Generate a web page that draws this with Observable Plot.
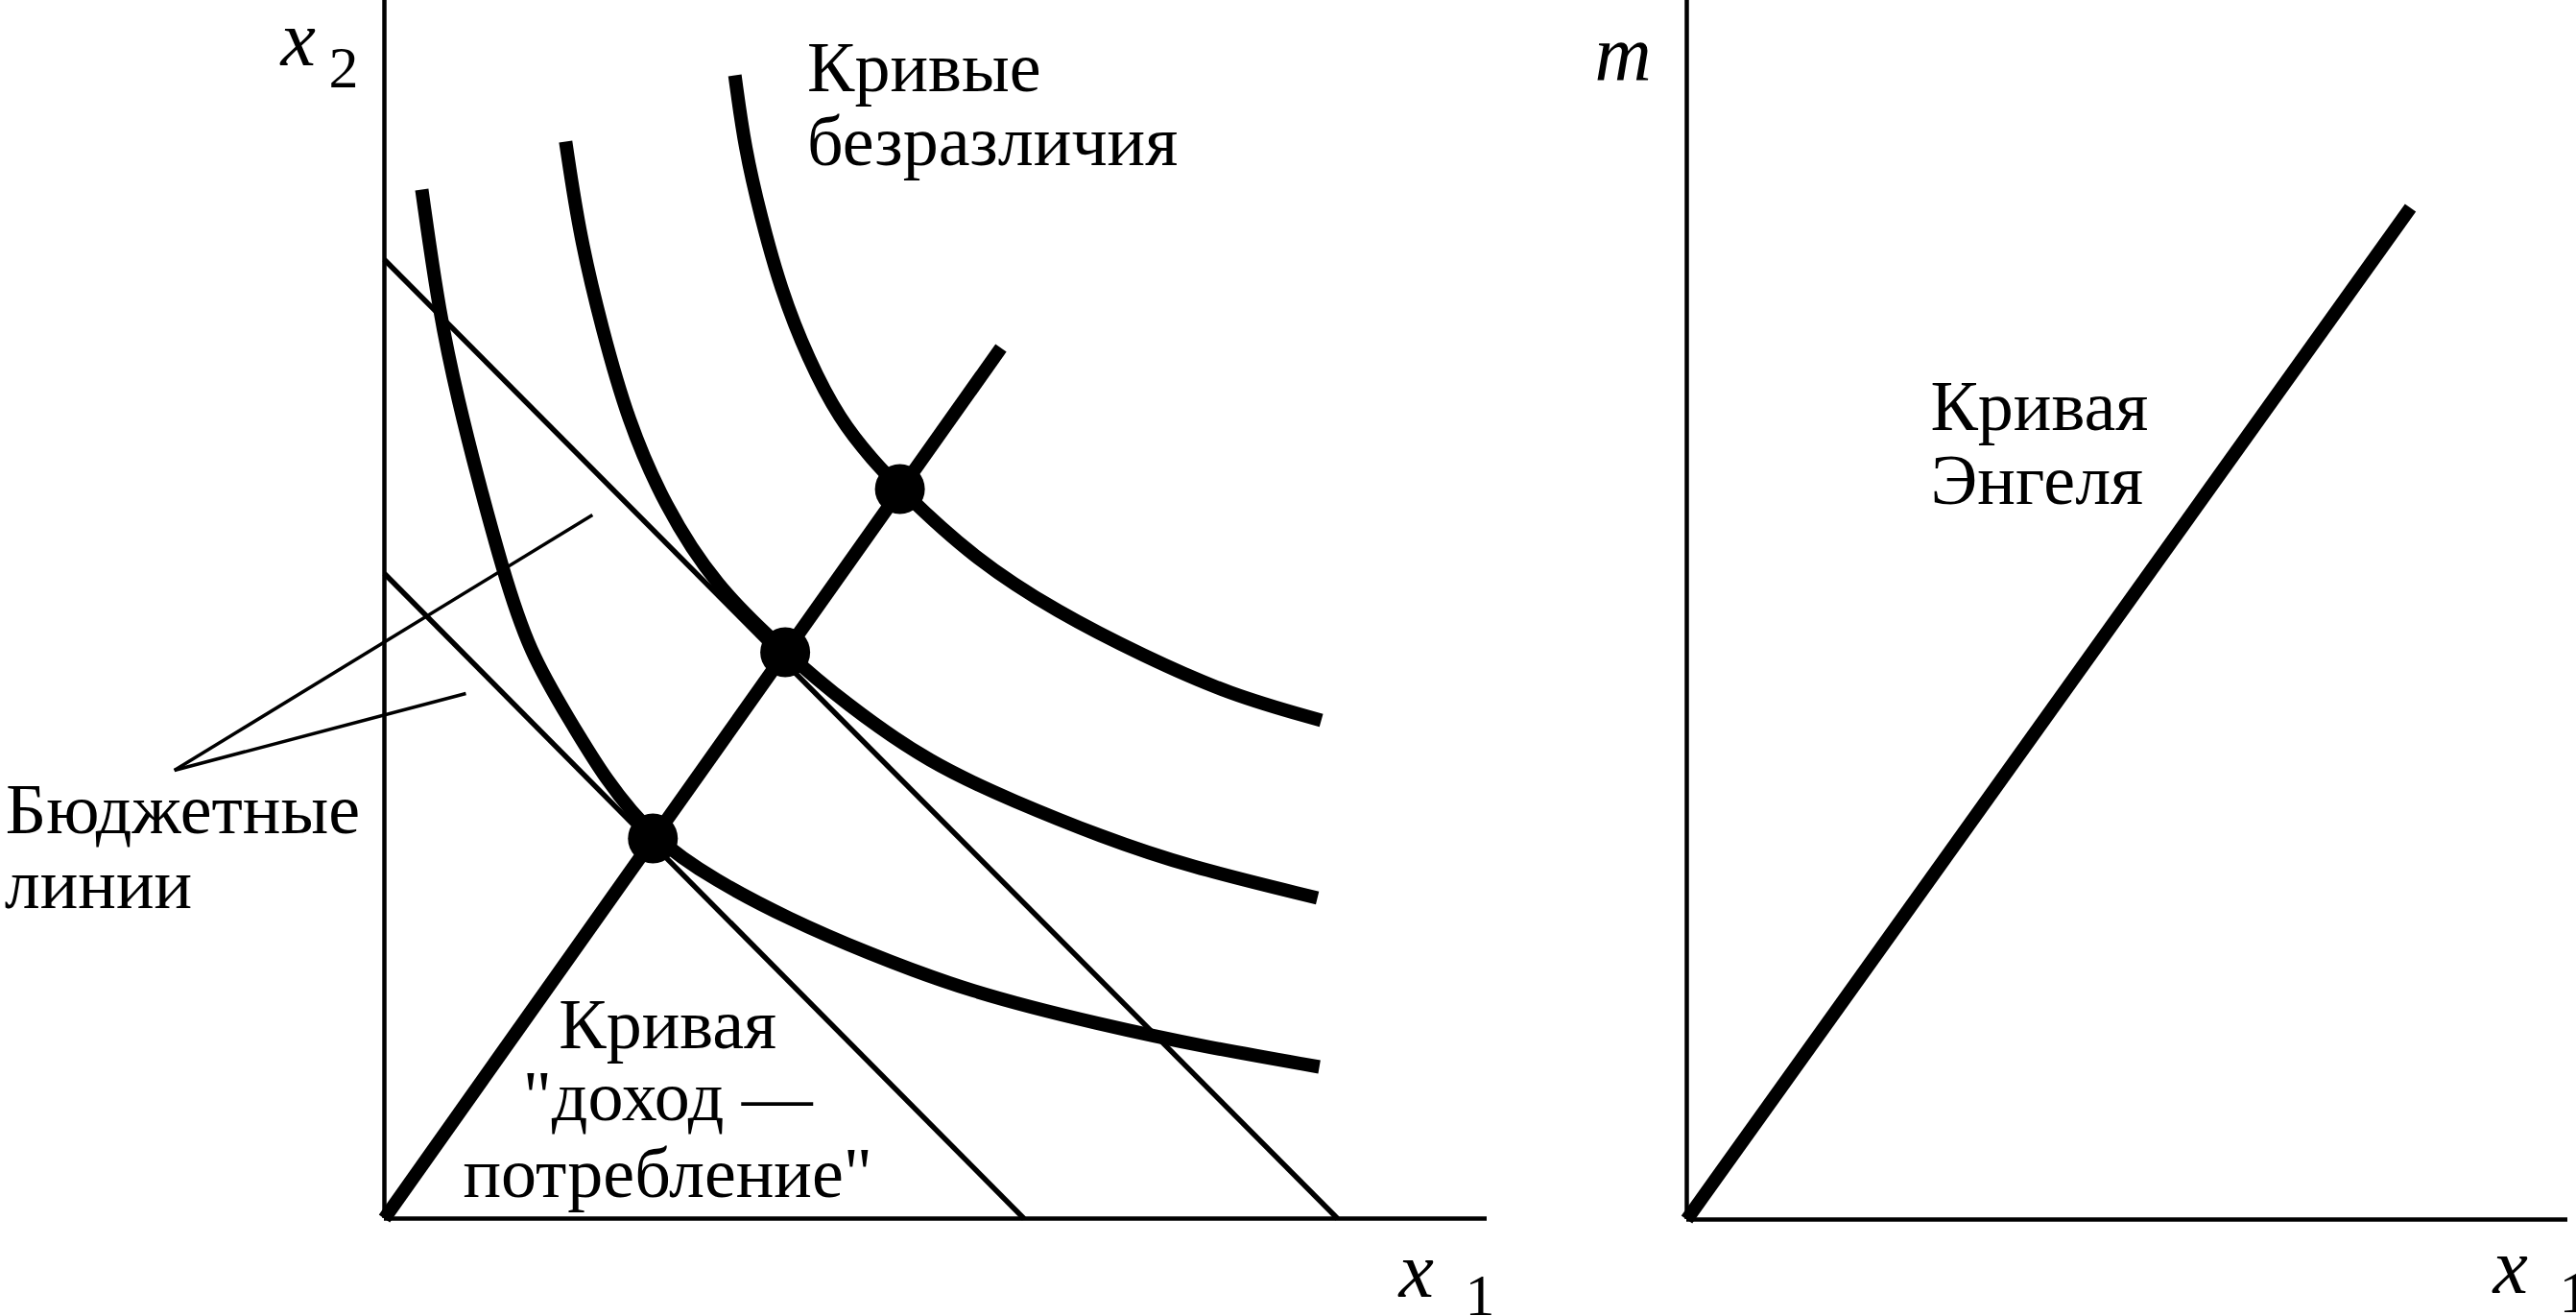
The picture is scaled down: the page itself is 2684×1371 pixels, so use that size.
<!DOCTYPE html>
<html>
<head>
<meta charset="utf-8">
<script src="https://cdn.jsdelivr.net/npm/d3@7"></script>
<script src="https://cdn.jsdelivr.net/npm/@observablehq/plot@0.6"></script>
<style>
html, body { margin: 0; padding: 0; background: #fff; }
#wrap { position: relative; width: 2684px; height: 1371px; overflow: hidden; background: #fff; }
#wrap svg { position: absolute; top: 0; overflow: visible; max-width: none; }
#wrap svg text { font-family: "Liberation Serif", "DejaVu Serif", "Times New Roman", Times, serif; }
</style>
</head>
<body>
<div id="wrap"></div>
<script>
// ---- Left panel data (units: x1, x2) ----
const indiff1 = [[0.39,10.72],[0.573,9.42],[0.775,8.50],[0.967,7.74],[1.227,6.78],[1.51,5.90],[1.94,5.18],[2.30,4.58],[2.80,3.96],[3.45,3.52],[4.22,3.12],[5.00,2.78],[6.10,2.36],[7.47,2.02],[8.60,1.78],[9.75,1.58]];
const indiff2 = [[1.89,11.22],[2.04,10.22],[2.27,9.27],[2.54,8.31],[2.92,7.43],[3.45,6.59],[4.18,5.90],[4.80,5.37],[5.69,4.74],[6.58,4.34],[7.47,3.98],[8.37,3.67],[9.73,3.34]];
const indiff3 = [[3.655,11.91],[3.76,11.14],[3.925,10.44],[4.13,9.69],[4.42,8.95],[4.75,8.32],[5.085,7.91],[5.376,7.60],[6.135,6.885],[7.03,6.31],[7.92,5.86],[8.81,5.46],[9.77,5.19]];
const budget1 = [[0,9.99],[9.94,0]];
const budget2 = [[0,6.72],[6.67,0]];
const incomeConsumption = [[0,0],[6.43,9.07]];
const optima = [[2.80,3.96],[4.18,5.90],[5.376,7.60]];
const pointerUpper = [[-2.19,4.67],[2.17,7.33]];
const pointerLower = [[-2.19,4.67],[0.85,5.47]];
const leftLabels = [
  {text: "Кривые", x: 4.41, y: 11.745},
  {text: "безразличия", x: 4.41, y: 10.978},
  {text: "Бюджетные", x: -3.95, y: 4.02},
  {text: "линии", x: -3.96, y: 3.24}
];
const iccLabels = [
  {text: "Кривая", x: 2.955, y: 1.776},
  {text: "\"доход —", x: 2.955, y: 1.03},
  {text: "потребление\"", x: 2.955, y: 0.227}
];
const leftAxisVar = [{text: "x", x: -1.08, y: 12.02}, {text: "x", x: 10.58, y: -0.81}];
const leftAxisSub = [{text: "2", x: -0.58, y: 11.79}, {text: "1", x: 11.27, y: -1.00}];

// ---- Right panel data (units: x1, m) ----
const engel = [[0,0],[7.54,10.54]];
const rightLabels = [
  {text: "Кривая", x: 2.54, y: 8.23},
  {text: "Энгеля", x: 2.54, y: 7.46}
];
const rightAxisVar = [{text: "m", x: -0.96, y: 11.88}, {text: "x", x: 8.40, y: -0.76}];
const rightAxisSub = [{text: "1", x: 9.09, y: -0.96}];

const serif = "'Liberation Serif', 'DejaVu Serif', 'Times New Roman', serif";
const px = d => d[0], py = d => d[1];
const thick = {x: px, y: py, stroke: "black", strokeWidth: 14, strokeLinecap: "butt", strokeLinejoin: "round"};
const thin = {x: px, y: py, stroke: "black", strokeWidth: 5.5, strokeLinecap: "butt"};
const labelOpts = {x: "x", y: "y", text: "text", lineAnchor: "bottom", fontSize: 74, fontFamily: serif, fill: "black"};

const left = Plot.plot({
  width: 1600, height: 1371,
  marginLeft: 400, marginRight: 51, marginTop: 0, marginBottom: 102,
  x: {domain: [0, 11.5], axis: null},
  y: {domain: [0, 12.69], axis: null},
  marks: [
    Plot.ruleX([0], {y1: 0, y2: 12.69, stroke: "black", strokeWidth: 4.5}),
    Plot.ruleY([0], {x1: 0, x2: 11.5, stroke: "black", strokeWidth: 4.5}),
    Plot.line(budget1, thin),
    Plot.line(budget2, thin),
    Plot.line(pointerUpper, {...thin, strokeWidth: 3.5}),
    Plot.line(pointerLower, {...thin, strokeWidth: 3.5}),
    Plot.line(indiff1, {...thick, curve: "basis"}),
    Plot.line(indiff2, {...thick, curve: "basis"}),
    Plot.line(indiff3, {...thick, curve: "basis"}),
    Plot.line(incomeConsumption, {...thick, strokeWidth: 14}),
    Plot.dot(optima, {x: px, y: py, r: 26, fill: "black", stroke: null}),
    Plot.text(leftLabels, {...labelOpts, textAnchor: "start"}),
    Plot.text(iccLabels, {...labelOpts, textAnchor: "middle"}),
    Plot.text(leftAxisVar, {...labelOpts, textAnchor: "start", fontStyle: "italic", fontSize: 82}),
    Plot.text(leftAxisSub, {...labelOpts, textAnchor: "start", fontSize: 62})
  ]
});

const right = Plot.plot({
  width: 1084, height: 1371,
  marginLeft: 157, marginRight: 9, marginTop: 0, marginBottom: 101,
  x: {domain: [0, 9.18], axis: null},
  y: {domain: [0, 12.70], axis: null},
  marks: [
    Plot.ruleX([0], {y1: 0, y2: 12.70, stroke: "black", strokeWidth: 4.5}),
    Plot.ruleY([0], {x1: 0, x2: 9.18, stroke: "black", strokeWidth: 4.5}),
    Plot.line(engel, {...thick, strokeWidth: 14}),
    Plot.text(rightLabels, {...labelOpts, textAnchor: "start"}),
    Plot.text(rightAxisVar, {...labelOpts, textAnchor: "start", fontStyle: "italic", fontSize: 82}),
    Plot.text(rightAxisSub, {...labelOpts, textAnchor: "start", fontSize: 62})
  ]
});

left.style.left = "0px";
right.style.left = "1600px";
const wrap = document.getElementById("wrap");
wrap.appendChild(left);
wrap.appendChild(right);
</script>
</body>
</html>
